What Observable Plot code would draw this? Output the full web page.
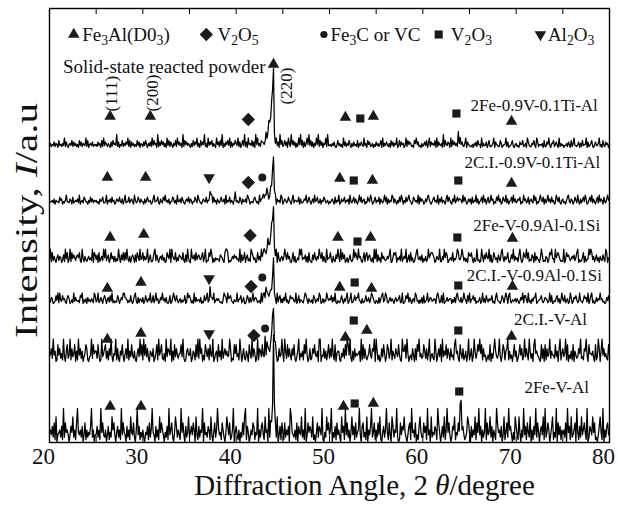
<!DOCTYPE html>
<html>
<head>
<meta charset="utf-8">
<script src="https://cdn.jsdelivr.net/npm/d3@7"></script>
<script src="https://cdn.jsdelivr.net/npm/@observablehq/plot@0.6"></script>
<style>
  html, body { margin: 0; padding: 0; background: #fff; }
  #chart svg { display: block; }
</style>
</head>
<body>
<div id="chart"></div>
<script>
// XRD patterns of the solid-state reacted powders, stacked top to bottom.
const samples = [
  "2Fe-0.9V-0.1Ti-Al",
  "2C.I.-0.9V-0.1Ti-Al",
  "2Fe-V-0.9Al-0.1Si",
  "2C.I.-V-0.9Al-0.1Si",
  "2C.I.-V-Al",
  "2Fe-V-Al"
];

// Vertical offset of each pattern (a.u.)
const offsets = [294, 237, 180, 139, 81, 0.5];

// Background counts, one code per 0.1° step from 20° to 80°.
// Each code 0-9 stands for a background level (noiseLevels) times the pattern's noiseScale.
const noiseLevels = [0, 1, 2, 3, 4, 5, 6.5, 8, 10.5, 14];
const noiseScale = [1.0, 1.3, 0.95, 0.75, 1.6, 2.4];
const noise = [
  "35243625417342538263145372635241736254382714536243" +
  "42635172836425316274539261437253648271635242736154" +
  "26374153628374519263746251837264153728463519274635" +
  "31527364825173649251836472531846273915264738162547" +
  "53826147392618453726194835276413825963714528361947" +
  "24736185294736152849371625849372615384927361548293" +
  "34253621473524183625374152634271536428351746235142" +
  "63524718253642517362548137264513827465231758462315" +
  "24637158264537182643519274365182746352917463258164" +
  "32241536274418253361472235816432275134482613357214" +
  "52316447235186322547318624435172264831557246318253" +
  "41335264172583324615273448162357214633582417326451" + "3",

  "23342514332645132473325416234352713426533142635243" +
  "42315346223714352634125436325147233624531742364253" +
  "31524633412573346215326473425133652417335264214536" +
  "25413364275321453362413572634153246335172436243158" +
  "34226415335276413325642317354623264137352461534276" +
  "13542364315724433615223547236413527346225143652341" +
  "32453162437125346243517324625314736245132643751246" +
  "24361532473615243762531426375142635743126534271635" +
  "41253674213563427153624315736421537246135427364125" +
  "35162437251346273514623745132647351264372513462735" +
  "23546132745236145327461325743615247352634127536214" +
  "52314673254136427315246375124637253146273541632574" + "4",

  "49182630572650371948039184752675820941631463529087" +
  "37081462959257038461614295073828394160575071862934" +
  "82635904711489273056372501864909643815276538207194" +
  "10954728367436815902286970415343176520899802136475" +
  "63419072580572419863501836294786259403712749083156" +
  "25973846104816025397935471608210738526497481620935" +
  "58306217496193847025047213958639562048178267315094" +
  "91725084632364790158780536291464903718250158943627" +
  "04261395788750264391163958702452814369703697251408" +
  "76840513923029617485491702863507428951635810374926" +
  "35179402865948132760826430597121650387944095786312" +
  "19038675246472589031258061349798361472506327419805" + "5",

  "52760138491943856207860251937434187905260735264198" +
  "24913750686057283914132860475997651428304893071652" +
  "70385264913815946027594627103802796385146152480397" +
  "86140927355270318469208375914646312059871967842053" +
  "39256814700486172593675134092881954367025340927816" +
  "17492503867632904815421798506325087146398026153974" +
  "65827391042158406379036912584779430612583471598620" +
  "43071689259821573640573468129013869274056298340517" +
  "08135924763465089712819024735660527189342715964083" +
  "91568470324703926185264581307953204861797089215346" +
  "26403759188519240637790245683147651392801437826059" +
  "53814602970276851394315867290489140273659562301748" + "2",

  "35729460184725193068249173580619472603587103492856" +
  "62840193578261749305491720648305729163842610573948" +
  "19483720653702581946821509376490618374255839201674" +
  "47026518392957041863718439025608361925746349702185" +
  "83519604721640852937502917638439174205682685017349" +
  "50962837417482036915361859402712758436099043726158" +
  "27394180566105372849849206173545609182731358427690" +
  "96140273850387259164275384109668295034174071869352" +
  "38627159045219604738093648275173418956208527136049" +
  "14703962586958173402418052796325930487167916240583" +
  "60258471393741962508956431082708173592644283607915" +
  "73591804261806423759231769408554620813970694735218" + "4",

  "45362718034526192745303648251794352603715243692503" +
  "36251947325036142857304625193743062518437205936142" +
  "52043617259430625184753042619357204862531947306248" +
  "24637508316254907342651830472596341752048637125904" +
  "63150427389164025376143905267318450926137452803617" +
  "41725360984325170643825190374652813047265391042857" +
  "35904261735208461937250483617245930672418053692471" +
  "52738104625941730862549201736584203671945270316842" +
  "27461935082436519740362815947302658143720956312487" +
  "40625381749360524917348260531974526038147295630418" +
  "63184052936174280516392740563819247503681429073615" +
  "35270946182357094162835741902653847120368419052673" + "3"
];

// Diffraction peaks above background: [2θ, counts in a.u.]
const peaks = [
  [[42.9, 2], [43.0, 3], [43.1, 4], [43.2, 6], [43.3, 8], [43.4, 11], [43.5, 14], [43.6, 20], [43.7, 28],
   [43.8, 40], [43.9, 58], [44.0, 76], [44.1, 10], [44.2, 3], [63.8, 3], [63.9, 4], [64.0, 3]],
  [[37.1, 4], [37.2, 10], [37.3, 5], [42.8, 2], [42.9, 3], [43.0, 5], [43.1, 7], [43.2, 8], [43.3, 9],
   [43.4, 7], [43.5, 5], [43.6, 6], [43.7, 9], [43.8, 16], [43.9, 30], [44.0, 46], [44.1, 10], [44.2, 3],
   [63.8, 3], [63.9, 3]],
  [[42.8, 2], [42.9, 3], [43.0, 4], [43.1, 5], [43.2, 7], [43.3, 9], [43.4, 11], [43.5, 14], [43.6, 18],
   [43.7, 24], [43.8, 32], [43.9, 42], [44.0, 54], [44.1, 8], [44.2, 3], [63.8, 3], [63.9, 3]],
  [[37.1, 3], [37.2, 9], [37.3, 4], [42.9, 2], [43.0, 3], [43.1, 5], [43.2, 6], [43.3, 8], [43.4, 7],
   [43.5, 5], [43.6, 6], [43.7, 8], [43.8, 14], [43.9, 26], [44.0, 42], [44.1, 8], [44.2, 2], [63.8, 2]],
  [[43.1, 3], [43.2, 5], [43.3, 7], [43.4, 8], [43.5, 9], [43.6, 10], [43.7, 12], [43.8, 18], [43.9, 30],
   [44.0, 50], [44.1, 10], [44.2, 3]],
  [[43.7, 6], [43.8, 18], [43.9, 30], [44.0, 88], [44.1, 28], [44.2, 8], [63.9, 6], [64.0, 38], [64.1, 8]]
];

// Phase identification
const phases = ["Fe3Al", "V2O5", "FeC", "V2O3", "Al2O3"];
const phaseNames = ["Fe_3Al(D0_3)", "V_2O_5", "Fe_3C or VC", "V_2O_3", "Al_2O_3"];

// Phase markers of each pattern: [phase, 2θ, level (a.u.)]
const markers = [
  [["Fe3Al", 26.5, 326], ["Fe3Al", 30.8, 326], ["V2O5", 41.3, 323], ["Fe3Al", 44.0, 378], ["Fe3Al", 51.7, 325],
   ["V2O3", 53.3, 324], ["Fe3Al", 54.7, 326], ["V2O3", 63.6, 329], ["Fe3Al", 69.5, 321]],
  [["Fe3Al", 26.2, 265], ["Fe3Al", 30.3, 265], ["Al2O3", 37.1, 265], ["V2O5", 41.3, 260], ["FeC", 42.8, 265],
   ["Fe3Al", 51.1, 264], ["V2O3", 52.6, 262], ["Fe3Al", 54.6, 262], ["V2O3", 63.8, 262], ["Fe3Al", 69.5, 259]],
  [["Fe3Al", 26.5, 205], ["Fe3Al", 30.1, 208], ["V2O5", 41.5, 207], ["Fe3Al", 50.9, 205],
   ["V2O3", 53.0, 201], ["Fe3Al", 54.4, 205], ["V2O3", 63.7, 205], ["Fe3Al", 69.6, 204]],
  [["Fe3Al", 26.2, 154], ["Fe3Al", 29.8, 160], ["Al2O3", 37.1, 164], ["V2O5", 41.6, 156], ["FeC", 42.8, 165],
   ["Fe3Al", 51.1, 155], ["V2O3", 52.7, 160], ["Fe3Al", 54.5, 154], ["V2O3", 63.8, 157], ["Fe3Al", 69.6, 156]],
  [["Fe3Al", 26.2, 103], ["Fe3Al", 29.8, 109], ["Al2O3", 37.1, 109], ["V2O5", 41.9, 107], ["FeC", 43.1, 114],
   ["Fe3Al", 51.7, 105], ["V2O3", 52.6, 122], ["Fe3Al", 54.0, 112], ["V2O3", 63.8, 112], ["Fe3Al", 69.5, 106]],
  [["Fe3Al", 26.5, 36], ["Fe3Al", 29.8, 36], ["Fe3Al", 51.5, 36], ["V2O3", 52.7, 39],
   ["Fe3Al", 54.7, 39], ["V2O3", 63.9, 51]]
];

// Reflection indices of the Fe3Al (D03) lines
const reflections = ["(111)", "(200)", "(220)"];
const reflectionAngles = [26.6, 31.0, 45.35];

const tickAngles = [20, 25, 30, 35, 40, 45, 50, 55, 60, 65, 70, 75, 80];
const tickLabels = [20, 30, 40, 50, 60, 70, 80];

// ---- build the table of points ----
const rows = [];
samples.forEach((name, s) => {
  const codes = noise[s];
  const n = codes.length;
  const step = 60 / (n - 1);
  const extra = new Array(n).fill(0);
  for (const [a, h] of peaks[s]) extra[Math.round((a - 20) / step)] += h;
  for (let i = 0; i < n; i++) {
    rows.push({
      sample: name,
      angle: 20 + i * step,
      intensity: offsets[s] + noiseLevels[+codes[i]] * noiseScale[s] + extra[i]
    });
  }
});

const markerRows = markers.flatMap((list, s) =>
  list.map(([phase, angle, level]) => ({sample: samples[s], phase, angle, level})));

// marker glyph for each phase
const glyph = {
  Fe3Al: {symbol: "triangle", r: 4.3, rotate: 0},
  V2O5:  {symbol: "diamond2", r: 6.0, rotate: 0},
  FeC:   {symbol: "circle",   r: 4.0, rotate: 0},
  V2O3:  {symbol: "square",   r: 4.6, rotate: 0},
  Al2O3: {symbol: "triangle", r: 4.3, rotate: 180}
};
const ink = "#1b1b1b";

// legend placement along the top of the frame (2θ of glyph, 2θ where the text starts)
const legendGlyphAt = [22.6, 36.8, 49.4, 61.7, 72.6];
const legendTextAt = [23.5, 38.0, 50.1, 63.0, 73.4];
const legendLevel = 408;

// sample label placement: [2θ at right end, level]
const labelPlacement = [[78.75, 337], [79.0, 280], [79.0, 217], [79.2, 167], [77.6, 123], [77.8, 55]];

const marks = [
  Plot.line(rows, {x: "angle", y: "intensity", z: "sample", stroke: "#000", strokeWidth: 1.25}),
  Plot.frame({stroke: "#000", strokeWidth: 1.4}),
  Plot.tickX(tickAngles, {x: d => d, insetBottom: 428, stroke: "#000"}),
  Plot.tickX(tickAngles, {x: d => d, insetTop: 428, stroke: "#000"}),
  Plot.axisX(tickLabels, {tickSize: 0, tickPadding: 5, dx: -6, fontSize: 23, label: null}),
  Plot.text(["Diffraction Angle, 2 *θ*/degree"], {text: d => d, frameAnchor: "bottom", lineAnchor: "middle",
    dx: 35, dy: 43, fontSize: 29}),
  Plot.text(["Intensity, *I*/a.u"], {text: d => d, frameAnchor: "left", textAnchor: "middle", lineAnchor: "middle",
    rotate: -90, dx: -22, dy: -5, fontSize: 31}),
  Plot.text(["Solid-state reacted powder"], {text: d => d, x: 43.15, y: 376, textAnchor: "end", fontSize: 19}),
  Plot.text(reflections, {text: d => d, x: (d, i) => reflectionAngles[i], y: (d, i) => i === 2 ? 338 : 331,
    rotate: -90, textAnchor: "start", fontSize: 17}),
  Plot.text(samples, {text: d => d, x: (d, i) => labelPlacement[i][0], y: (d, i) => labelPlacement[i][1],
    textAnchor: "end", fontSize: 17})
];

for (const [k, phase] of phases.entries()) {
  const g = glyph[phase];
  marks.push(
    Plot.dot(markerRows.filter(d => d.phase === phase), {
      x: "angle", y: "level", symbol: g.symbol, r: g.r, rotate: g.rotate, fill: ink, stroke: "none"
    }),
    Plot.dot([phase], {x: legendGlyphAt[k], y: legendLevel, symbol: g.symbol, r: g.r * (phase === "FeC" ? 0.9 : 1),
      rotate: g.rotate, fill: ink, stroke: "none"}),
    Plot.text([phaseNames[k]], {text: d => d, x: legendTextAt[k], y: legendLevel, textAnchor: "start", fontSize: 19})
  );
}

const chart = Plot.plot({
  width: 618,
  height: 506,
  marginLeft: 49,
  marginRight: 9,
  marginTop: 8,
  marginBottom: 64,
  style: {fontFamily: '"Liberation Serif", "Times New Roman", serif', background: "#fff", color: "#111"},
  x: {domain: [20, 80]},
  y: {domain: [0, 434], axis: null},
  marks
});

document.getElementById("chart").appendChild(chart);

// chemical subscripts (_n) and italic runs (*...*) in labels
function richText(node) {
  const src = node.textContent;
  if (!/[_*]/.test(src)) return;
  const size = parseFloat(getComputedStyle(node).fontSize) || 16;
  const drop = Math.round(size * 0.22);
  node.textContent = "";
  let italic = false, shift = 0;
  for (const m of src.matchAll(/\*|_(\d)|[^*_]+/g)) {
    if (m[0] === "*") { italic = !italic; continue; }
    const sub = m[1] !== undefined;
    const span = document.createElementNS("http://www.w3.org/2000/svg", "tspan");
    span.textContent = sub ? m[1] : m[0];
    const target = sub ? drop : 0;
    if (target !== shift) { span.setAttribute("dy", target - shift); shift = target; }
    if (sub) span.setAttribute("font-size", "72%");
    if (italic) span.setAttribute("font-style", "italic");
    node.appendChild(span);
  }
}
chart.querySelectorAll("text").forEach(richText);

// the intensity title runs long and narrow along the left edge
chart.querySelectorAll("text").forEach(t => {
  if (t.textContent.startsWith("Intensity")) {
    t.setAttribute("textLength", 235);
    t.setAttribute("lengthAdjust", "spacingAndGlyphs");
  }
});
</script>
</body>
</html>
